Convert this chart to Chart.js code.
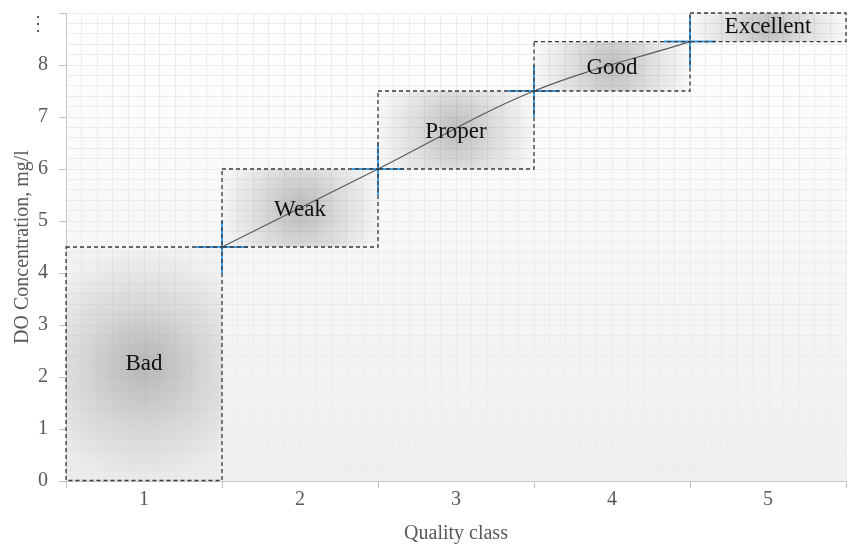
<!DOCTYPE html>
<html>
<head>
<meta charset="utf-8">
<script src="https://cdn.jsdelivr.net/npm/chart.js@4.4.0/dist/chart.umd.min.js"></script>
<style>
html, body { margin: 0; padding: 0; background: #fff; }
#wrap { width: 848px; height: 545px; position: relative; }
</style>
</head>
<body>
<div id="wrap"><canvas id="myChart"></canvas></div>
<script>
// quality classes and their DO ranges (mg/l)
var classes = [1, 2, 3, 4, 5];
var classNames = ['Bad', 'Weak', 'Proper', 'Good', 'Excellent'];
var lowerLimit = [0, 4.5, 6, 7.5, 8.45];
var upperLimit = [4.5, 6, 7.5, 8.45, 9];
var nameY = [2.25, 5.21, 6.71, 7.94, 8.73];

// points on the class boundaries
var curveX = [1.5, 2.5, 3.5, 4.5];
var curveY = [4.5, 6, 7.5, 8.45];

// the top tick is shown as a vertical ellipsis, set a bit under its grid line
var yTickLabels = ['0', '1', '2', '3', '4', '5', '6', '7', '8', ['', '\u22EE']];

var serif = '"Liberation Serif", "Times New Roman", serif';
var gray = '#595959';

var boxData = classes.map(function(c, i) { return { x: c, y: [lowerLimit[i], upperLimit[i]] }; });
var curveData = curveX.map(function(x, i) { return { x: x, y: curveY[i] }; });

function boxFill(ctx) {
	var chart = ctx.chart;
	if (!chart.chartArea || ctx.type !== 'data') return 'rgba(0,0,0,0.1)';
	var xs = chart.scales.x, ys = chart.scales.y, i = ctx.dataIndex;
	var x0 = xs.getPixelForValue(classes[i] - 0.5), x1 = xs.getPixelForValue(classes[i] + 0.5);
	var y0 = ys.getPixelForValue(upperLimit[i]), y1 = ys.getPixelForValue(lowerLimit[i]);
	var cx = (x0 + x1) / 2, cy = (y0 + y1) / 2;
	var r = Math.max(x1 - x0, y1 - y0) / 2;
	var g = chart.ctx.createRadialGradient(cx, cy, 0, cx, cy, r);
	g.addColorStop(0, 'rgba(0,0,0,0.25)');
	g.addColorStop(0.5, 'rgba(0,0,0,0.12)');
	g.addColorStop(1, 'rgba(0,0,0,0.02)');
	return g;
}

var boxPlugin = {
	id: 'boxes',
	beforeDraw: function(chart) {
		var a = chart.chartArea, c = chart.ctx;
		var g = c.createLinearGradient(0, a.top, 0, a.bottom);
		g.addColorStop(0, '#ffffff');
		g.addColorStop(1, '#efefef');
		c.save();
		c.fillStyle = g;
		c.fillRect(a.left, a.top, a.right - a.left, a.bottom - a.top);
		c.restore();
	},
	afterDatasetsDraw: function(chart) {
		var c = chart.ctx, xs = chart.scales.x, ys = chart.scales.y;
		var meta = chart.getDatasetMeta(0);
		c.save();
		c.setLineDash([4, 3]);
		c.lineWidth = 1.3;
		c.strokeStyle = '#3a3a3a';
		meta.data.forEach(function(bar) {
			var p = bar.getProps(['x', 'y', 'base', 'width']);
			c.strokeRect(p.x - p.width / 2, p.y, p.width, p.base - p.y);
		});
		c.setLineDash([]);
		c.fillStyle = '#111';
		c.font = '23px ' + serif;
		c.textAlign = 'center';
		c.textBaseline = 'middle';
		classes.forEach(function(cl, i) {
			c.fillText(classNames[i], xs.getPixelForValue(cl), ys.getPixelForValue(nameY[i]));
		});
		c.restore();
	}
};

// tick positions: class centres and class boundaries
var xTickValues = [];
classes.forEach(function(c) { xTickValues.push(c - 0.5, c); });
xTickValues.push(classes[classes.length - 1] + 0.5);

function noSize(s) {
	if (s.isHorizontal()) s.height = 0; else s.width = 0;
	s.paddingLeft = s.paddingRight = s.paddingTop = s.paddingBottom = 0;
}

var ctx = document.getElementById('myChart').getContext('2d');
var chart = new Chart(ctx, {
	type: 'scatter',
	data: {
		datasets: [{
			type: 'bar',
			data: boxData,
			backgroundColor: boxFill,
			borderWidth: 0,
			barPercentage: 1,
			categoryPercentage: 2, // ruler min is half a class (boundary ticks)
			order: 3
		}, {
			type: 'scatter',
			data: curveData,
			pointStyle: 'cross',
			pointRadius: 26,
			pointBorderColor: '#3a9be6',
			pointBorderWidth: 2,
			showLine: false,
			order: 2
		}, {
			type: 'line',
			data: curveData,
			borderColor: '#5a5a5a',
			borderWidth: 1.2,
			tension: 0.35,
			pointRadius: 0,
			fill: false,
			order: 1
		}]
	},
	options: {
		responsive: true,
		maintainAspectRatio: false,
		animation: false,
		layout: { autoPadding: false, padding: { left: 9, right: 2, top: 13, bottom: 0 } },
		plugins: { legend: { display: false }, tooltip: { enabled: false } },
		scales: {
			x: {
				type: 'linear', min: 0.5, max: 5.5, offset: false,
				afterBuildTicks: function(s) { s.ticks = xTickValues.map(function(v) { return { value: v }; }); },
				afterFit: function(s) { s.height = 64; s.paddingLeft = 0; s.paddingRight = 0; },
				ticks: {
					autoSkip: false, maxRotation: 0, padding: 0, color: gray,
					font: { family: serif, size: 20 },
					callback: function(v) { return Number.isInteger(v) ? String(v) : ''; }
				},
				grid: {
					offset: false, tickLength: 7,
					color: function(c) { return c.tick && Number.isInteger(c.tick.value) ? 'rgba(0,0,0,0)' : '#d9d9d9'; },
					tickColor: function(c) { return c.tick && Number.isInteger(c.tick.value) ? 'rgba(0,0,0,0)' : '#bfbfbf'; }
				},
				border: { color: '#c8c8c8' },
				title: { display: true, text: 'Quality class', color: gray, font: { family: serif, size: 20 }, padding: { top: 8, bottom: -1 } }
			},
			y: {
				type: 'linear', min: 0, max: 9,
				afterBuildTicks: function(s) { s.ticks = yTickLabels.map(function(l, i) { return { value: i }; }); },
				afterFit: function(s) { s.width = 57; s.paddingTop = 0; s.paddingBottom = 0; },
				ticks: {
					padding: 11, color: gray,
					font: { family: serif, size: 20 },
					callback: function(v, i) { return yTickLabels[i]; }
				},
				grid: { color: '#d9d9d9', tickLength: 7, tickColor: '#bfbfbf' },
				border: { color: '#c8c8c8' },
				title: { display: true, text: 'DO Concentration, mg/l', color: gray, font: { family: serif, size: 20 }, padding: { top: 2, bottom: 4 } }
			},
			xMinor: {
				type: 'linear', position: 'top', min: 0.5, max: 5.5, z: -1,
				afterBuildTicks: function(s) { var t = []; for (var k = 0; k <= 50; k++) t.push({ value: 0.5 + k / 10 }); s.ticks = t; },
				afterFit: noSize,
				ticks: { display: false },
				grid: { color: '#ececec', drawTicks: false },
				border: { display: false }
			},
			yMinor: {
				type: 'linear', position: 'right', min: 0, max: 9, z: -1,
				afterBuildTicks: function(s) { var t = []; for (var k = 0; k <= 45; k++) t.push({ value: k / 5 }); s.ticks = t; },
				afterFit: noSize,
				ticks: { display: false },
				grid: { color: '#ececec', drawTicks: false },
				border: { display: false }
			}
		}
	},
	plugins: [boxPlugin]
});
</script>
</body>
</html>
